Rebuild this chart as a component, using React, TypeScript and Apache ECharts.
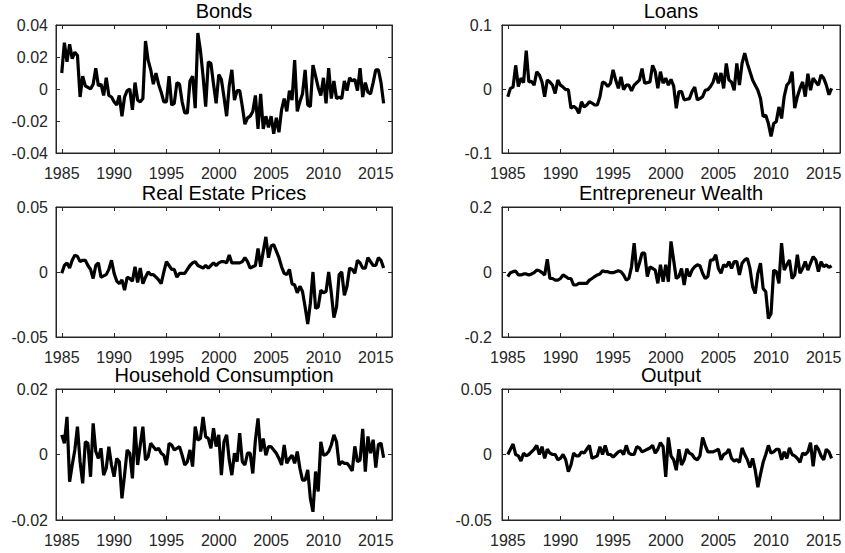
import React, { useEffect, useRef } from "react";
import * as echarts from "echarts";

const startYear = 1985;
const endYear = 2015;
const xTickYears = [1985, 1990, 1995, 2000, 2005, 2010, 2015];
const titles = ["Bonds", "Loans", "Real Estate Prices", "Entrepreneur Wealth", "Household Consumption", "Output"];

const bonds = [
  0.010, 0.029, 0.017, 0.028, 0.019, 0.023, 0.021, -0.005, 0.008, 0.002, 0.001, 0.000,
  0.003, 0.013, 0.002, 0.003, -0.004, 0.007, -0.004, -0.005, -0.008, -0.010, -0.004, -0.017,
  -0.005, -0.001, 0.000, -0.013, 0.004, -0.007, -0.008, -0.006, 0.030, 0.018, 0.012, 0.003,
  0.010, 0.003, -0.002, -0.008, -0.008, 0.008, -0.010, -0.009, 0.004, 0.003, -0.008, -0.015,
  -0.015, 0.005, 0.008, -0.012, 0.035, 0.024, 0.008, -0.011, 0.017, 0.016, 0.003, -0.009,
  0.009, 0.006, -0.005, -0.017, 0.002, 0.012, -0.007, -0.001, -0.001, -0.011, -0.022, -0.018,
  -0.017, -0.014, -0.004, -0.025, -0.003, -0.025, -0.017, -0.024, -0.017, -0.028, -0.018, -0.027,
  -0.013, -0.006, -0.014, -0.001, -0.007, 0.018, -0.014, -0.008, -0.003, 0.012, -0.010, -0.011,
  0.015, 0.008, 0.001, -0.004, 0.007, -0.009, 0.013, -0.006, 0.005, -0.006, -0.005, -0.006,
  0.005, -0.001, 0.007, 0.005, 0.006, -0.001, 0.013, -0.005, 0.004, -0.002, -0.003, 0.004,
  0.012, 0.012, 0.004, -0.009,
];

const loans = [
  -0.012, 0.001, 0.003, 0.037, 0.004, 0.017, 0.010, 0.060, 0.011, 0.012, 0.006, 0.027,
  0.022, 0.011, -0.012, 0.014, 0.011, 0.006, -0.007, 0.014, 0.006, 0.003, -0.001, -0.001,
  -0.030, -0.027, -0.030, -0.038, -0.020, -0.028, -0.025, -0.020, -0.022, -0.025, -0.025, -0.012,
  0.011, 0.009, 0.004, 0.009, 0.030, 0.014, 0.001, 0.019, -0.001, 0.006, 0.006, -0.003,
  0.006, 0.010, 0.014, 0.032, 0.009, 0.010, 0.011, 0.037, 0.027, 0.001, 0.027, 0.009,
  0.017, 0.006, 0.015, 0.005, -0.030, -0.004, -0.004, -0.017, -0.016, -0.015, -0.004, 0.003,
  -0.017, -0.015, -0.012, -0.002, -0.001, 0.004, 0.011, 0.025, 0.009, 0.025, 0.001, 0.040,
  0.014, 0.011, -0.002, 0.040, 0.006, 0.040, 0.056, 0.040, 0.027, 0.014, 0.006, -0.002,
  -0.015, -0.043, -0.041, -0.054, -0.074, -0.054, -0.051, -0.028, -0.046, -0.012, 0.006, 0.011,
  0.027, -0.030, -0.012, 0.001, 0.011, -0.012, 0.024, -0.002, 0.017, 0.011, 0.006, 0.022,
  0.017, 0.006, -0.009, 0.001,
];

const realEstate = [
  -0.001, 0.005, 0.007, 0.003, 0.009, 0.013, 0.012, 0.008, 0.009, 0.009, 0.005, 0.002,
  -0.005, 0.005, 0.007, -0.004, -0.003, -0.002, 0.002, 0.009, -0.001, -0.007, -0.009, -0.006,
  -0.014, -0.004, -0.005, -0.007, 0.004, -0.008, 0.003, -0.009, -0.004, 0.000, -0.002, -0.002,
  -0.004, -0.006, -0.009, 0.000, 0.008, 0.005, 0.002, 0.002, -0.004, -0.001, -0.001, -0.001,
  0.002, 0.005, 0.007, 0.008, 0.005, 0.004, 0.003, 0.005, 0.003, 0.005, 0.007, 0.005,
  0.007, 0.008, 0.008, 0.007, 0.013, 0.007, 0.007, 0.007, 0.007, 0.008, 0.011, 0.008,
  0.003, 0.004, 0.005, 0.018, 0.004, 0.016, 0.027, 0.011, 0.020, 0.021, 0.016, 0.011,
  0.004, -0.001, -0.002, 0.002, -0.009, -0.010, -0.016, -0.011, -0.015, -0.027, -0.040, -0.024,
  0.000, -0.028, -0.027, -0.014, -0.016, -0.015, 0.000, -0.016, -0.035, -0.027, -0.002, 0.000,
  -0.018, -0.011, 0.003, 0.002, -0.001, 0.009, 0.007, 0.003, 0.003, 0.011, 0.008, 0.005,
  0.005, 0.011, 0.009, 0.003,
];

const entrepreneurWealth = [
  -0.014, -0.002, 0.001, 0.003, -0.009, -0.009, -0.006, -0.006, -0.009, -0.006, -0.002, 0.006,
  0.004, -0.002, -0.009, 0.039, -0.020, -0.020, -0.025, -0.025, -0.020, -0.009, -0.014, -0.020,
  -0.020, -0.040, -0.040, -0.035, -0.035, -0.035, -0.035, -0.025, -0.020, -0.014, -0.009, -0.006,
  0.004, 0.001, 0.001, -0.002, -0.002, 0.001, 0.004, 0.001, -0.009, -0.025, -0.020, 0.016,
  0.089, 0.001, 0.027, 0.058, 0.058, -0.014, 0.016, 0.011, 0.006, -0.035, 0.022, -0.030,
  0.022, -0.030, 0.094, 0.037, -0.020, -0.014, 0.011, -0.040, 0.011, -0.014, 0.006, 0.016,
  0.022, 0.019, -0.004, -0.020, -0.014, 0.037, 0.037, 0.053, 0.011, -0.004, 0.022, 0.016,
  0.032, 0.011, 0.032, 0.032, -0.009, 0.027, 0.037, 0.042, 0.011, -0.045, -0.066, -0.004,
  0.027, -0.051, -0.061, -0.143, -0.128, 0.006, 0.001, -0.035, 0.089, 0.006, 0.022, 0.037,
  -0.020, -0.009, 0.053, -0.004, 0.011, 0.032, 0.006, 0.027, 0.047, 0.037, 0.001, 0.032,
  0.016, 0.022, 0.014, 0.019,
];

const householdConsumption = [
  0.0060, 0.0034, 0.0115, -0.0083, -0.0032, 0.0014, 0.0085, -0.0022, -0.0088, 0.0039, 0.0034, -0.0068,
  0.0095, 0.0009, -0.0012, 0.0019, -0.0063, -0.0042, 0.0024, -0.0032, -0.0068, -0.0012, -0.0022, -0.0134,
  -0.0063, 0.0014, 0.0004, -0.0073, 0.0085, -0.0032, 0.0029, 0.0085, -0.0017, -0.0007, 0.0034, 0.0024,
  0.0014, 0.0019, 0.0004, -0.0002, -0.0032, 0.0034, 0.0029, 0.0014, 0.0019, 0.0024, -0.0002, -0.0032,
  -0.0022, 0.0014, -0.0037, 0.0085, 0.0044, 0.0049, 0.0115, 0.0054, 0.0049, 0.0019, 0.0080, 0.0024,
  0.0060, -0.0063, 0.0039, 0.0060, -0.0017, -0.0063, 0.0004, -0.0022, 0.0065, -0.0022, -0.0032, 0.0004,
  0.0004, -0.0058, 0.0044, 0.0110, 0.0009, 0.0049, -0.0002, 0.0024, 0.0024, 0.0014, 0.0004, -0.0012,
  -0.0032, 0.0029, -0.0027, -0.0012, -0.0002, -0.0027, 0.0009, -0.0042, -0.0078, -0.0078, -0.0047, -0.0134,
  -0.0175, -0.0052, -0.0113, 0.0039, -0.0002, 0.0000, 0.0009, 0.0029, 0.0060, 0.0039, -0.0032, -0.0022,
  -0.0027, -0.0027, -0.0037, -0.0050, 0.0025, -0.0022, -0.0017, 0.0078, -0.0052, 0.0055, 0.0004, 0.0045,
  -0.0040, 0.0030, 0.0035, -0.0010,
];

const output = [
  0.000, 0.004, 0.008, 0.000, -0.001, -0.005, 0.001, -0.001, 0.000, 0.002, 0.004, 0.007,
  0.000, 0.006, -0.003, 0.004, 0.001, 0.000, 0.000, -0.004, -0.003, 0.000, -0.004, -0.013,
  -0.008, 0.001, -0.001, -0.001, 0.002, 0.001, 0.004, 0.007, -0.003, -0.002, -0.001, 0.006,
  0.000, 0.007, 0.000, 0.000, -0.002, 0.000, 0.002, 0.003, 0.000, 0.007, 0.001, 0.000,
  0.000, 0.006, 0.005, 0.002, 0.003, 0.004, 0.005, 0.007, 0.001, 0.004, 0.009, 0.006,
  -0.017, 0.013, -0.001, -0.004, -0.012, 0.004, -0.008, -0.004, 0.004, 0.001, 0.000, -0.003,
  -0.004, -0.001, 0.013, 0.007, 0.002, 0.002, 0.002, 0.003, 0.004, -0.004, 0.000, 0.001,
  0.004, -0.003, -0.005, -0.004, -0.006, 0.005, 0.000, -0.004, -0.010, -0.003, -0.012, -0.025,
  -0.015, -0.006, 0.000, 0.007, 0.001, 0.002, 0.004, 0.004, -0.004, 0.002, -0.003, 0.005,
  0.000, -0.001, -0.003, -0.006, 0.001, 0.000, 0.002, 0.009, -0.009, 0.007, 0.004, -0.001,
  -0.004, 0.004, 0.002, -0.003,
];

const yLimits = [0.04, 0.1, 0.05, 0.2, 0.02, 0.05];
const yIntervals = [0.02, 0.1, 0.05, 0.2, 0.02, 0.05];

const quarters: number[] = [];
for (let y = startYear; y <= endYear; y++) for (let q = 0; q < 4; q++) quarters.push(y + q / 4);

const seriesData = [bonds, loans, realEstate, entrepreneurWealth, householdConsumption, output];

const AXIS_COLOR = "#262626";
const FONT = "'Liberation Sans', Arial, Helvetica, sans-serif";

export default function App() {
  const ref = useRef<HTMLDivElement>(null);
  useEffect(() => {
    if (!ref.current) return;
    const chart = echarts.init(ref.current, undefined, { renderer: "svg" });
    const colLeft = [56, 502];
    const colWidth = [336, 338];
    const yLabelMargin = [8, 10];
    const rowTop = [25, 207, 389];
    const rowHeight = [128, 130, 131];
    const grids: any[] = [];
    const xAxes: any[] = [];
    const yAxes: any[] = [];
    const series: any[] = [];
    const graphics: any[] = [];
    for (let k = 0; k < 6; k++) {
      const r = Math.floor(k / 2);
      const c = k % 2;
      grids.push({
        left: colLeft[c],
        top: rowTop[r],
        width: colWidth[c],
        height: rowHeight[r],
        show: true,
        borderColor: AXIS_COLOR,
        borderWidth: 1,
        backgroundColor: "#fff",
        containLabel: false,
      });
      const xCommon = {
        type: "value",
        gridIndex: k,
        min: 1984.45,
        max: 2016.55,
        splitLine: { show: false },
        axisLine: { show: true, onZero: false, lineStyle: { color: AXIS_COLOR, width: 1 } },
        axisTick: { show: true, inside: true, length: 4, customValues: xTickYears, lineStyle: { color: AXIS_COLOR } },
      };
      xAxes.push({
        ...xCommon,
        position: "bottom",
        axisLabel: {
          show: true,
          customValues: xTickYears,
          color: AXIS_COLOR,
          fontSize: 16,
          fontFamily: FONT,
          margin: 12,
          formatter: (v: number) => String(v),
        },
      });
      xAxes.push({ ...xCommon, position: "top", axisLabel: { show: false } });
      const lim = yLimits[k];
      const yCommon = {
        type: "value",
        gridIndex: k,
        min: -lim,
        max: lim,
        interval: yIntervals[k],
        splitLine: { show: false },
        axisLine: { show: true, onZero: false, lineStyle: { color: AXIS_COLOR, width: 1 } },
        axisTick: { show: true, inside: true, length: 4, lineStyle: { color: AXIS_COLOR } },
      };
      yAxes.push({
        ...yCommon,
        position: "left",
        axisLabel: {
          show: true,
          color: AXIS_COLOR,
          fontSize: 16,
          fontFamily: FONT,
          margin: yLabelMargin[c],
          formatter: (v: number) => {
            const rv = Math.round(v * 10000) / 10000;
            return rv === 0 ? "0" : String(rv);
          },
        },
      });
      yAxes.push({ ...yCommon, position: "right", axisLabel: { show: false } });
      series.push({
        type: "line",
        xAxisIndex: 2 * k,
        yAxisIndex: 2 * k,
        data: seriesData[k].map((v, i) => [quarters[i], v]),
        showSymbol: false,
        symbol: "none",
        lineStyle: { color: "#000", width: 3.2 },
        silent: true,
      });
      graphics.push({
        type: "text",
        x: colLeft[c] + colWidth[c] / 2,
        y: rowTop[r] - 14,
        style: {
          text: titles[k],
          fill: "#000",
          fontSize: 20,
          fontFamily: FONT,
          textAlign: "center",
          textVerticalAlign: "middle",
        },
      });
    }
    chart.setOption({
      animation: false,
      backgroundColor: "#fff",
      grid: grids,
      xAxis: xAxes,
      yAxis: yAxes,
      series,
      graphic: graphics,
    });
    return () => chart.dispose();
  }, []);
  return (
    <div
      ref={ref}
      style={{ position: "absolute", left: 0, top: 0, width: 845, height: 553, background: "#fff" }}
    />
  );
}
